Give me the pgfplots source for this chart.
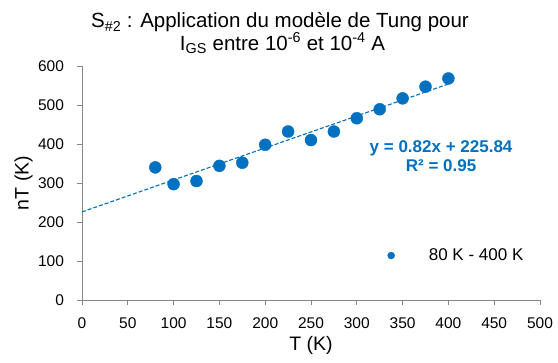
\documentclass[border=0pt]{standalone}
\usepackage{fontspec}
\setmainfont{Liberation Sans}
\usepackage{pgfplots}
\pgfplotsset{compat=1.18}
\definecolor{xlblue}{HTML}{0070C0}
\definecolor{axgray}{HTML}{868686}
\begin{document}
\begin{tikzpicture}
\begin{axis}[
  at={(0,0)}, anchor=south west,
  scale only axis,
  width=458pt, height=234pt,
  xmin=0, xmax=500, ymin=0, ymax=600,
  xtick={0,50,...,500}, ytick={0,100,...,600},
  axis x line*=bottom, axis y line*=left,
  axis line style={axgray, line width=0.9pt, -},
  tick style={axgray, line width=0.9pt},
  tick align=outside, major tick length=5pt,
  /pgf/number format/assume math mode=true,
  ticklabel style={font=\fontsize{15.5}{17}\selectfont},
  xticklabel style={yshift=-9pt},
  yticklabel style={xshift=-9.5pt},
  label style={font=\fontsize{19.5}{22}\selectfont},
  xlabel={T (K)}, ylabel={nT (K)},
  xlabel style={at={([yshift=-45.5pt]axis description cs:0.5,0)}, anchor=center},
  ylabel style={at={([xshift=-58.5pt]axis description cs:0,0.5)}, anchor=center},
  legend style={draw=none, fill=none, at={(0.66,0.19)}, anchor=west,
    font=\fontsize{17}{19}\selectfont},
  legend image code/.code={\fill[xlblue] (0.25cm,0) circle (3.5pt);},
]
\addplot[only marks, mark=*, mark size=6pt, xlblue] coordinates {
(80,340) (100,297) (125,305) (150,344) (175,352) (200,398) (225,432)
(250,410) (275,432) (300,466) (325,489) (350,517) (375,547) (400,568)};
\addlegendentry{\hspace{32pt}80 K - 400 K}
\addplot[xlblue, line width=1.1pt, dash pattern=on 4pt off 2pt, forget plot]
coordinates {(0,225.84) (400,553.84)};
\node[xlblue, font=\bfseries\fontsize{17}{19}\selectfont, align=center]
  at (axis cs:392,369) {y = 0.82x + 225.84\\R² = 0.95};
\end{axis}
\node[font=\fontsize{20.5}{23}\selectfont, anchor=base] at (198pt,272pt)
  {S\textsubscript{\#2} : Application du modèle de Tung pour};
\node[font=\fontsize{20.5}{23}\selectfont, anchor=base] at (200.5pt,249.5pt)
  {I\textsubscript{GS} entre 10\textsuperscript{-6} et 10\textsuperscript{-4} A};
\pgfresetboundingbox
\path (-82pt,-63pt) rectangle (476pt,300pt);
\end{tikzpicture}
\end{document}
